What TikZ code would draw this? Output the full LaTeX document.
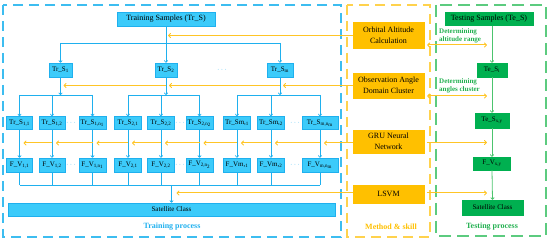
\documentclass[tikz,border=0pt]{standalone}
\usepackage{fontspec}
\setmainfont{Liberation Serif}
\usetikzlibrary{arrows.meta,calc}
\definecolor{bfill}{HTML}{3CCBFA}
\definecolor{bline}{HTML}{1FB0EE}
\definecolor{bframe}{HTML}{3DBDF0}
\definecolor{ofill}{HTML}{FFC000}
\definecolor{oline}{HTML}{FFC526}
\definecolor{oframe}{HTML}{FFD24D}
\definecolor{gfill}{HTML}{00B050}
\definecolor{gline}{HTML}{4CC46E}
\definecolor{gframe}{HTML}{5CCB7F}
\definecolor{gtext}{HTML}{22B050}
\tikzset{
  bbox/.style={draw=bline, fill=bfill, line width=0.6pt, inner sep=0pt, text=black, font=\fontsize{7}{8}\selectfont},
  obox/.style={draw=ofill, fill=ofill, inner sep=0pt, minimum width=71pt, text=black, align=center, font=\fontsize{8}{10.5}\selectfont},
  gbox/.style={draw=gfill, fill=gfill, inner sep=0pt, text=black, font=\fontsize{7}{8}\selectfont},
  bl/.style={draw=bline, line width=0.7pt},
  barrow/.style={bl, -{To[length=2.5pt,width=4pt]}},
  ol/.style={draw=oline, line width=1pt},
  oarrow/.style={ol, -{To[length=3pt,width=5pt]}},
  odbl/.style={ol, {To[length=3pt,width=5pt]}-{To[length=3pt,width=5pt]}},
  garrow/.style={draw=gline, line width=0.8pt, -{To[length=2.5pt,width=4pt]}},
  dots/.style={text=bline, font=\fontsize{7}{8}\selectfont},
  gtxt/.style={text=gtext, font=\fontsize{7}{8.5}\bfseries\selectfont, align=left, anchor=west, inner sep=0pt},
  ttl/.style={font=\fontsize{8}{9}\bfseries\selectfont, inner sep=0pt}
}
\begin{document}
\begin{tikzpicture}[x=1pt,y=-1pt]
\useasboundingbox (0,0) rectangle (550,243);
% frames
\draw[bframe, line width=1.3pt, dash pattern=on 10pt off 6pt] (3,5) rectangle (341,237);
\draw[oframe, line width=1.3pt, dash pattern=on 10pt off 6pt] (347,5) rectangle (430,237);
\draw[gframe, line width=1.3pt, dash pattern=on 12pt off 6pt] (436,5) rectangle (546,236);

% training nodes
\node[bbox, minimum width=98pt, minimum height=14pt, font=\fontsize{8}{9}\selectfont] (TS) at (166,19) {Training Samples (Tr\_S)};
\node[bbox, minimum width=23pt, minimum height=14pt] (S1) at (60.5,70) {Tr\_S\textsubscript{1}};
\node[bbox, minimum width=22pt, minimum height=14pt] (S2) at (166,70) {Tr\_S\textsubscript{2}};
\node[bbox, minimum width=26pt, minimum height=14pt] (Sm) at (280,70) {Tr\_S\textsubscript{m}};
\node[dots] (d0) at (222,70) {$\cdots$};

\foreach \n/\x/\w/\lab in {a11/19.5/26/{Tr\_S\textsubscript{1,1}}, a12/52/26/{Tr\_S\textsubscript{1,2}}, a1n/92.5/27/{Tr\_S\textsubscript{1,n\textsubscript{1}}},
  a21/128/27/{Tr\_S\textsubscript{2,1}}, a22/161/27/{Tr\_S\textsubscript{2,2}}, a2n/199.5/27/{Tr\_S\textsubscript{2,n\textsubscript{2}}},
  am1/237/27/{Tr\_Sm,\textsubscript{1}}, am2/271/27/{Tr\_Sm,\textsubscript{2}}, amn/320/36/{Tr\_S\textsubscript{m,n\textsubscript{m}}}}
  \node[bbox, minimum width=\w pt, minimum height=13pt] (\n) at (\x,123) {\lab};

\foreach \n/\x/\w/\lab in {v11/19.5/26/{F\_V\textsubscript{1,1}}, v12/52/26/{F\_V\textsubscript{1,2}}, v1n/92.5/27/{F\_V\textsubscript{1,n\textsubscript{1}}},
  v21/128/27/{F\_V\textsubscript{2,1}}, v22/161/27/{F\_V\textsubscript{2,2}}, v2n/199.5/27/{F\_V\textsubscript{2,n\textsubscript{2}}},
  vm1/237/27/{F\_Vm,\textsubscript{1}}, vm2/271/27/{F\_Vm,\textsubscript{2}}, vmn/320/36/{F\_V\textsubscript{m,n\textsubscript{m}}}}
  \node[bbox, minimum width=\w pt, minimum height=14pt] (\n) at (\x,165) {\lab};

\foreach \i/\x in {1/71,2/180,3/295} {
  \node[dots] (da\i) at (\x,123) {$\cdots$};
  \node[dots] (dv\i) at (\x,165) {$\cdots$};
}
\node[bbox, minimum width=327pt, minimum height=13pt, font=\fontsize{7}{8}\selectfont] (Sat) at (171.5,209.5) {Satellite Class};

% method nodes
\node[obox, minimum height=26pt] (Orb) at (388.5,35.5) {Orbital Altitude\\Calculation};
\node[obox, minimum height=25pt] (Obs) at (388.5,85.5) {Observation Angle\\Domain Cluster};
\node[obox, minimum height=23pt] (GRU) at (388.5,141.5) {GRU Neural\\Network};
\node[obox, minimum height=18pt] (LSVM) at (388.5,194) {LSVM};

% testing nodes
\node[gbox, minimum width=88pt, minimum height=13pt, font=\fontsize{8}{9}\selectfont] (TeS) at (489,19) {Testing Samples (Te\_S)};
\node[gbox, minimum width=30pt, minimum height=14pt] (Tei) at (492,70) {Te\_S\textsubscript{i}};
\node[gbox, minimum width=34pt, minimum height=15pt] (Texy) at (492,120.5) {Te\_S\textsubscript{x,y}};
\node[gbox, minimum width=37pt, minimum height=13pt] (FVxy) at (492,163.5) {F\_V\textsubscript{x,y}};
\node[gbox, minimum width=61pt, minimum height=15pt, font=\fontsize{7}{8}\selectfont] (SatT) at (492.5,207.5) {Satellite Class};

\node[gtxt] (lab1) at (439,36) {Determining\\altitude range};
\node[gtxt] (lab2) at (439,86) {Determining\\angles cluster};

% titles
\node[ttl, text=bline] (t1) at (172,227) {Training process};
\node[ttl, text=ofill] (t2) at (391,227) {Method \& skill};
\node[ttl, text=gtext] (t3) at (492,227) {Testing process};

% training connectors
\coordinate (bar1) at (0,43);
\coordinate (bar2) at (0,95);
\coordinate (bar3) at (0,185);
\draw[barrow] (TS.south) -- (S2.north);
\draw[bl] (S1 |- bar1) -- (Sm |- bar1);
\draw[barrow] (S1 |- bar1) -- (S1.north);
\draw[barrow] (Sm |- bar1) -- (Sm.north);

\foreach \p/\a/\b in {S1/a11/a1n, S2/a21/a2n, Sm/am1/amn} {
  \draw[barrow] (\p.south) -- (\p |- bar2);
  \draw[bl] (\a |- bar2) -- (\b |- bar2);
}
\foreach \a in {a11,a12,a1n,a21,a22,a2n,am1,am2,amn}
  \draw[barrow] (\a |- bar2) -- (\a.north);
\foreach \a/\v in {a11/v11,a12/v12,a1n/v1n,a21/v21,a22/v22,a2n/v2n,am1/vm1,am2/vm2,amn/vmn} {
  \draw[barrow] (\a.south) -- (\v.north);
  \draw[bl] (\v.south) -- (\v |- bar3);
}
\draw[bl] (v11 |- bar3) -- (vmn |- bar3);
\draw[barrow] (Sat.north |- bar3) -- (Sat.north);

% orange connectors to training
\draw[oarrow] (Orb.west) -- ($(TS.south |- Orb.west)+(2,0)$);
\draw[oarrow] (Obs.west) -- ($(Sm |- Obs.west)+(3,0)$);
\draw[oarrow] (Sm |- Obs.west) -- ($(S2 |- Obs.west)+(3,0)$);
\draw[oarrow] (S2 |- Obs.west) -- ($(S1 |- Obs.west)+(3,0)$);
\coordinate (gy) at (0,143);
\draw[oarrow] (GRU.west |- gy) -- ($(vmn |- gy)+(4,0)$);
\foreach \a/\b in {vmn/vm2, vm2/vm1, vm1/v2n, v2n/v22, v22/v21, v21/v1n, v1n/v12, v12/v11}
  \draw[oarrow] (\a |- gy) -- ($(\b |- gy)+(4,0)$);
\coordinate (ly) at (0,193);
\draw[oarrow] (LSVM.west |- ly) -- ($(Sat.north |- ly)+(5,0)$);

% orange connectors to testing
\draw[odbl] ($(Orb.east)+(3,9.5)$) -- ($(Orb.east -| Tei)+(-5,9.5)$);
\draw[odbl] ($(Obs.east)+(3,10.5)$) -- ($(Obs.east -| Tei)+(-5,10.5)$);
\draw[oarrow] ($(GRU.east)+(3,1)$) -- ($(GRU.east -| Tei)+(-5,1)$);
\draw[oarrow] ($(LSVM.east)+(3,-1)$) -- ($(LSVM.east -| Tei)+(-5,-1)$);

% green connectors
\draw[garrow] (TeS.south -| Tei) -- (Tei.north);
\draw[garrow] (Tei.south) -- (Texy.north);
\draw[garrow] (Texy.south) -- (FVxy.north);
\draw[garrow] (FVxy.south) -- (SatT.north);
\end{tikzpicture}
\end{document}
